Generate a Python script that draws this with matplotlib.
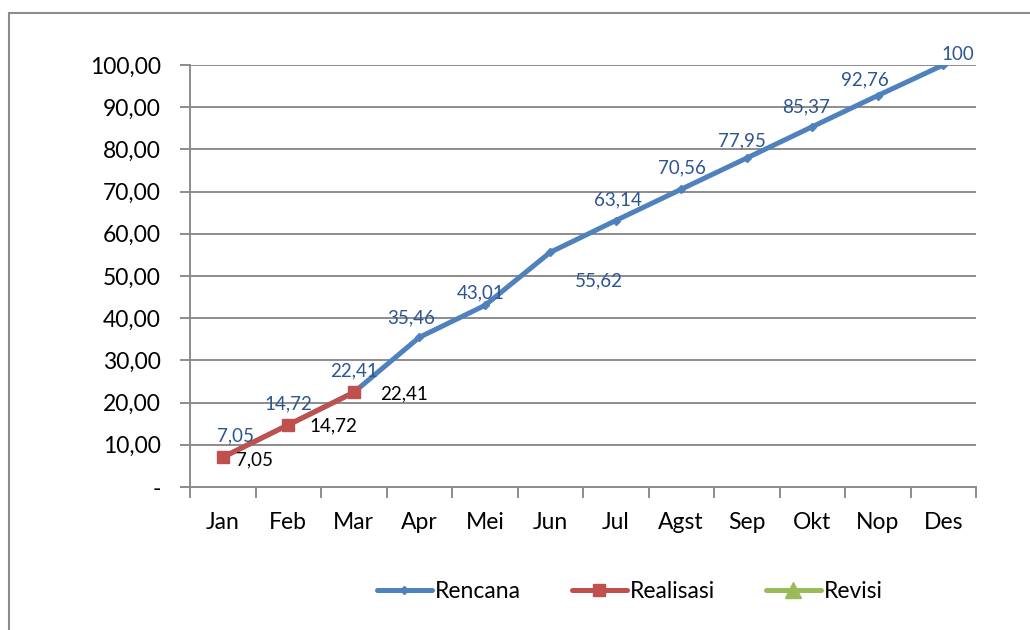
import matplotlib
matplotlib.use("Agg")
import matplotlib.pyplot as plt
from matplotlib.lines import Line2D
from matplotlib.ticker import FixedLocator, FuncFormatter

months = ["Jan", "Feb", "Mar", "Apr", "Mei", "Jun", "Jul", "Agst", "Sep", "Okt", "Nop", "Des"]
rencana = [7.05, 14.72, 22.41, 35.46, 43.01, 55.62, 63.14, 70.56, 77.95, 85.37, 92.76, 100]
rencana_labels = ["7,05", "14,72", "22,41", "35,46", "43,01", "55,62", "63,14", "70,56", "77,95", "85,37", "92,76", "100"]
realisasi = [7.05, 14.72, 22.41]
realisasi_labels = ["7,05", "14,72", "22,41"]
revisi = []
yticks = [0, 10, 20, 30, 40, 50, 60, 70, 80, 90, 100]

# label offsets in pixels (style)
ren_off = [(13, 21), (0, 21), (0, 22), (-8, 19), (-4, 13), (49, -29), (2, 21), (1, 21), (-5, 17), (-6, 20), (-13, 16), (15, 10)]
real_off = [(32, -3), (45, -1), (50, -1)]

plt.rcParams['font.family'] = ['Lato', 'DejaVu Sans']

W, H = 1030, 630
fig = plt.figure(figsize=(W / 100, H / 100), dpi=100)
ax = fig.add_axes([190 / W, 1 - 487 / H, (976 - 190) / W, (487 - 65) / H])

BLUE = '#4F81BD'
RED = '#C0504D'
GREEN = '#9BBB59'
LBLUE = '#2C5593'
GRID = '#8C8C8C'

x = list(range(len(months)))
ax.plot(x, rencana, color=BLUE, lw=3.6, marker='D', ms=4.5, solid_capstyle='round', zorder=3)
ax.plot(x[:len(realisasi)], realisasi, color=RED, lw=3.6, marker='s', ms=9, solid_capstyle='round', zorder=4)
ax.plot(x[:len(revisi)], revisi, color=GREEN, lw=3.6, marker='^', ms=11, zorder=5)

for i, (v, t) in enumerate(zip(rencana, rencana_labels)):
    dx, dy = ren_off[i]
    ax.annotate(t, (i, v), xytext=(dx, dy), textcoords='offset pixels', ha='center', va='center',
                color=LBLUE, fontsize=13.5, zorder=6)
for i, (v, t) in enumerate(zip(realisasi, realisasi_labels)):
    dx, dy = real_off[i]
    ax.annotate(t, (i, v), xytext=(dx, dy), textcoords='offset pixels', ha='center', va='center',
                color='black', fontsize=13.5, zorder=6)

ax.set_xlim(-0.5, len(months) - 0.5)
ax.set_ylim(0, 100)
ax.set_yticks(yticks)
ax.yaxis.set_major_formatter(FuncFormatter(lambda v, p: '-' if v == 0 else f"{v:.2f}".replace('.', ',')))
ax.grid(axis='y', color=GRID, lw=1.4)
ax.set_axisbelow(True)

ax.set_xticks(x)
ax.set_xticklabels(months)
ax.xaxis.set_minor_locator(FixedLocator([i - 0.5 for i in range(len(months) + 1)]))
ax.tick_params(axis='x', which='major', length=0, pad=18, labelsize=16.5)
ax.tick_params(axis='x', which='minor', length=8, width=1.4, color=GRID, direction='out')
ax.tick_params(axis='y', length=7, width=1.4, color=GRID, labelsize=16.5, pad=14)

for s in ['top', 'right']:
    ax.spines[s].set_visible(False)
ax.spines['left'].set_color(GRID)
ax.spines['left'].set_linewidth(1.4)
ax.spines['bottom'].set_color(GRID)
ax.spines['bottom'].set_linewidth(1.4)

handles = [
    Line2D([], [], color=BLUE, lw=3.6, marker='D', ms=4.5, solid_capstyle='round'),
    Line2D([], [], color=RED, lw=3.6, marker='s', ms=9, solid_capstyle='round'),
    Line2D([], [], color=GREEN, lw=3.6, marker='^', ms=11, solid_capstyle='round'),
]
fig.legend(handles, ["Rencana", "Realisasi", "Revisi"], loc='center', bbox_to_anchor=(630 / W, 1 - 592 / H),
           ncol=3, frameon=False, fontsize=16.5, handlelength=2.4, handletextpad=0.15, columnspacing=2.2)

# outer chart border (only left and top visible)
fig.add_artist(Line2D([8.5 / W, 8.5 / W], [0, 1 - 13 / H], color='#8C8C8C', lw=1.5, transform=fig.transFigure))
fig.add_artist(Line2D([8.5 / W, 1], [1 - 13 / H, 1 - 13 / H], color='#8C8C8C', lw=1.5, transform=fig.transFigure))

fig.savefig('out.png', dpi=100)
